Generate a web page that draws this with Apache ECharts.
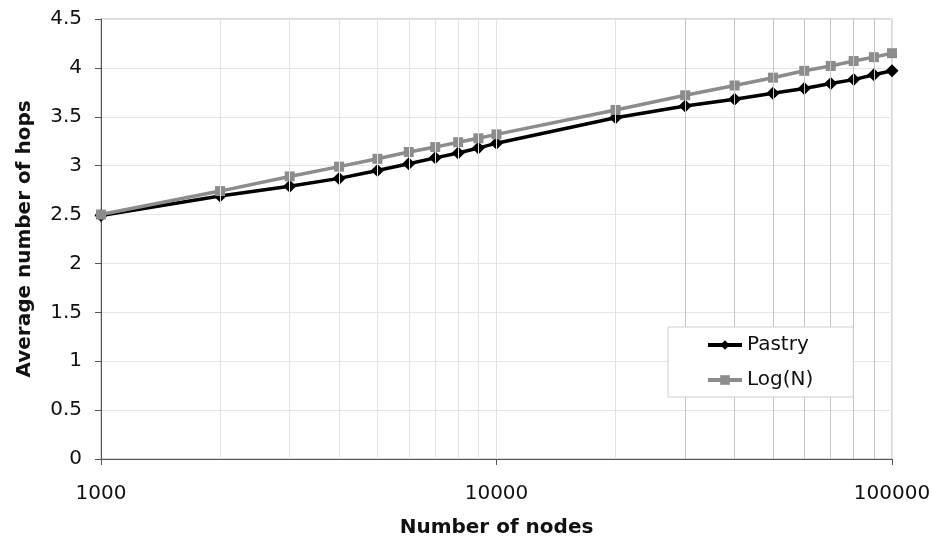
<!DOCTYPE html>
<html>
<head>
<meta charset="utf-8">
<script src="https://cdn.jsdelivr.net/npm/echarts@6/dist/echarts.min.js"></script>
<style>
html, body { margin: 0; padding: 0; background: #fff; }
#main { width: 934px; height: 541px; }
</style>
</head>
<body>
<div id="main"></div>
<script>
var nodes = [1000, 2000, 3000, 4000, 5000, 6000, 7000, 8000, 9000, 10000,
    20000, 30000, 40000, 50000, 60000, 70000, 80000, 90000, 100000];
var pastry = [2.49, 2.69, 2.79, 2.87, 2.95, 3.02, 3.08, 3.13, 3.18, 3.23,
    3.49, 3.61, 3.68, 3.74, 3.79, 3.84, 3.88, 3.93, 3.97];
var logN = [2.50, 2.74, 2.89, 2.99, 3.07, 3.14, 3.19, 3.24, 3.28, 3.32,
    3.57, 3.72, 3.82, 3.90, 3.97, 4.02, 4.07, 4.11, 4.15];
var lightGrid = [2000, 3000, 4000, 5000, 6000, 7000, 8000, 9000, 10000, 20000];
var darkGrid = [30000, 40000, 50000, 60000, 70000, 80000, 90000];

var font = 'DejaVu Sans, sans-serif';

function pairs(xs, ys) {
    var out = [];
    for (var i = 0; i < xs.length; i++) out.push([xs[i], ys[i]]);
    return out;
}
function gridLines(xs, color) {
    return xs.map(function (x) {
        return { xAxis: x, lineStyle: { color: color, width: 1, type: 'solid' } };
    });
}

var myChart = echarts.init(document.getElementById('main'));
var option = {
    animation: false,
    textStyle: { fontFamily: font },
    grid: {
        left: 101, right: 42, top: 19, bottom: 82,
        outerBoundsMode: 'none',
        containLabel: false,
        show: true, borderColor: '#b0b0b0', borderWidth: 1
    },
    legend: {
        data: ['Pastry', 'Log(N)'],
        orient: 'vertical',
        left: 668, top: 327,
        z: 20,
        padding: [8, 40, 7, 38],
        itemGap: 15,
        itemWidth: 34, itemHeight: 12,
        lineStyle: { width: 4 },
        backgroundColor: '#fff',
        borderColor: '#cfcfcf', borderWidth: 1,
        textStyle: { fontSize: 20, color: '#111', fontFamily: font }
    },
    xAxis: {
        type: 'log',
        logBase: 10,
        min: 1000, max: 100000,
        name: 'Number of nodes',
        nameLocation: 'middle',
        nameGap: 59,
        nameTextStyle: { fontSize: 20, fontWeight: 'bold', color: '#111', fontFamily: font },
        axisLine: { lineStyle: { color: '#555', width: 1 } },
        axisTick: { show: true, length: 6, lineStyle: { color: '#555' } },
        axisLabel: {
            fontSize: 20, fontFamily: font, color: '#111', margin: 25,
            formatter: function (v) { return String(Math.round(v)); }
        },
        splitLine: { show: true, lineStyle: { color: '#e6e6e6' } }
    },
    yAxis: {
        type: 'value',
        min: 0, max: 4.5, interval: 0.5,
        name: 'Average number of hops',
        nameLocation: 'middle',
        nameGap: 66,
        nameTextStyle: { fontSize: 20, fontWeight: 'bold', color: '#111', fontFamily: font },
        axisLine: { show: true, lineStyle: { color: '#555', width: 1 } },
        axisTick: { show: true, length: 6, lineStyle: { color: '#555' } },
        axisLabel: { fontSize: 20, fontFamily: font, color: '#111', margin: 19 },
        splitLine: { show: true, lineStyle: { color: '#e6e6e6' } }
    },
    series: [
        {
            name: 'grid',
            type: 'line',
            data: [],
            z: 1,
            silent: true,
            markLine: {
                silent: true,
                symbol: 'none',
                label: { show: false },
                data: gridLines(lightGrid, '#e3e3e3').concat(gridLines(darkGrid, '#c4c4c4'))
            }
        },
        {
            name: 'Pastry',
            type: 'line',
            z: 3,
            data: pairs(nodes, pastry),
            color: '#000',
            symbol: 'diamond',
            symbolSize: 13,
            lineStyle: { width: 3.5, color: '#000' },
            itemStyle: { color: '#000' }
        },
        {
            name: 'Log(N)',
            type: 'line',
            z: 4,
            data: pairs(nodes, logN),
            color: '#8c8c8c',
            symbol: 'rect',
            symbolSize: 10,
            lineStyle: { width: 3.5, color: '#8c8c8c' },
            itemStyle: { color: '#8c8c8c' }
        }
    ]
};
myChart.setOption(option);
</script>
</body>
</html>
